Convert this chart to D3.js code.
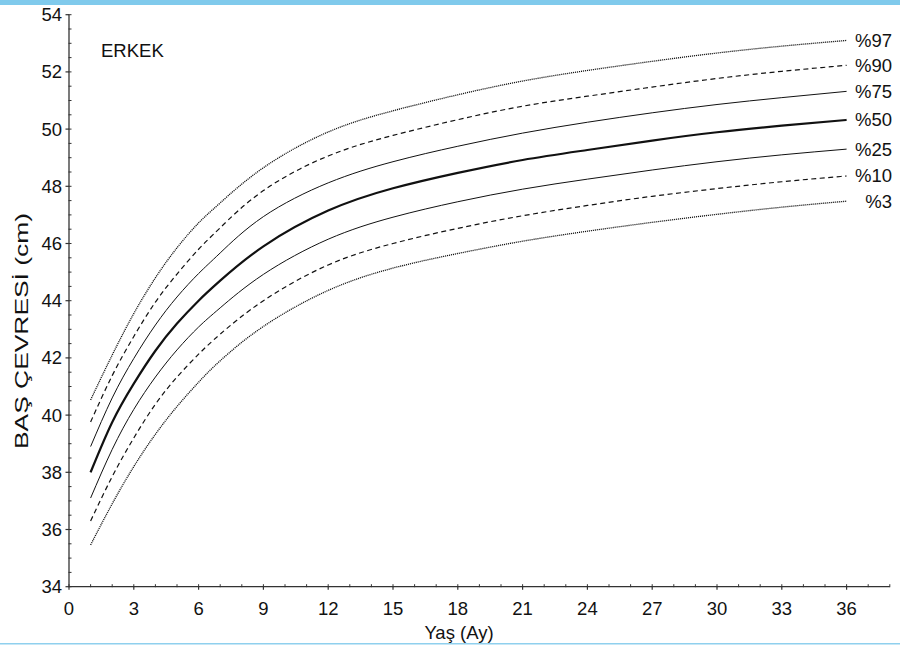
<!DOCTYPE html>
<html>
<head>
<meta charset="utf-8">
<script src="https://cdn.jsdelivr.net/npm/d3@7/dist/d3.min.js"></script>
<style>
  body { margin: 0; background: #fff; }
  svg { display: block; font-family: "Liberation Sans", Arial, sans-serif; }
</style>
</head>
<body>
<svg id="chart"></svg>
<script>
// ages (months) where the curves were read
const months = [1, 2, 3, 4, 5, 6, 7, 9, 12, 15, 18, 21, 24, 27, 30, 33, 36];

// head circumference percentiles (cm)
const p97 = [40.53, 42.1, 43.55, 44.8, 45.85, 46.72, 47.42, 48.65, 49.9, 50.64, 51.2, 51.68, 52.05, 52.37, 52.66, 52.9, 53.1];
const p90 = [39.76, 41.38, 42.75, 43.95, 44.93, 45.8, 46.55, 47.85, 49.06, 49.78, 50.33, 50.8, 51.15, 51.47, 51.77, 52.02, 52.23];
const p75 = [38.9, 40.6, 41.98, 43.15, 44.13, 44.95, 45.67, 46.94, 48.12, 48.86, 49.4, 49.86, 50.24, 50.57, 50.86, 51.1, 51.32];
const p50 = [38.0, 39.75, 41.1, 42.25, 43.2, 44.0, 44.7, 45.9, 47.15, 47.93, 48.47, 48.92, 49.27, 49.6, 49.89, 50.12, 50.32];
const p25 = [37.1, 38.8, 40.2, 41.33, 42.28, 43.08, 43.75, 44.92, 46.15, 46.92, 47.46, 47.9, 48.25, 48.57, 48.86, 49.1, 49.3];
const p10 = [36.3, 37.85, 39.2, 40.38, 41.33, 42.13, 42.83, 44.0, 45.25, 46.0, 46.53, 46.97, 47.33, 47.65, 47.92, 48.16, 48.36];
const p3  = [35.46, 36.9, 38.2, 39.33, 40.3, 41.15, 41.9, 43.1, 44.36, 45.14, 45.65, 46.08, 46.43, 46.74, 47.02, 47.27, 47.48];

const seriesNames = ["%97", "%90", "%75", "%50", "%25", "%10", "%3"];
const seriesValues = [p97, p90, p75, p50, p25, p10, p3];

const xTicks = [0, 3, 6, 9, 12, 15, 18, 21, 24, 27, 30, 33, 36];
const yTicks = [34, 36, 38, 40, 42, 44, 46, 48, 50, 52, 54];

// line look per percentile
const lineStyle = {
  "%97": { w: 1.3, dash: "1.1,0.9" },
  "%90": { w: 1.2, dash: "5,3.5" },
  "%75": { w: 1, dash: null },
  "%50": { w: 2.2, dash: null },
  "%25": { w: 1, dash: null },
  "%10": { w: 1.2, dash: "5,3.5" },
  "%3":  { w: 1.3, dash: "1.1,0.9" },
};

const W = 900, H = 645;
const svg = d3.select("#chart").attr("width", W).attr("height", H);

// blue frame strips
svg.append("rect").attr("x", 0).attr("y", 0).attr("width", W).attr("height", 5).attr("fill", "#80caec");
svg.append("rect").attr("x", 0).attr("y", 643).attr("width", W).attr("height", 1.5).attr("fill", "#8fd0ee");

const x = d3.scaleLinear().domain([0, 38]).range([69, 889.8]);
const y = d3.scaleLinear().domain([34, 54]).range([586.7, 14.7]);

const axisColor = "#333";
const g = svg.append("g");

// y axis
g.append("line")
  .attr("x1", x(0)).attr("x2", x(0))
  .attr("y1", y(34)).attr("y2", y(54))
  .attr("stroke", axisColor).attr("stroke-width", 1.3);

g.selectAll(".ymin")
  .data(d3.range(34, 54.01, 0.5))
  .join("line")
  .attr("x1", x(0) - 0.5).attr("x2", x(0) + 2.5)
  .attr("y1", (d) => y(d)).attr("y2", (d) => y(d))
  .attr("stroke", axisColor).attr("stroke-width", 1);

g.selectAll(".ymaj")
  .data(yTicks)
  .join("line")
  .attr("x1", x(0) - 3.5).attr("x2", x(0))
  .attr("y1", (d) => y(d)).attr("y2", (d) => y(d))
  .attr("stroke", axisColor).attr("stroke-width", 1.2);

g.selectAll(".ylab")
  .data(yTicks)
  .join("text")
  .attr("x", 62)
  .attr("y", (d) => y(d))
  .attr("dy", "0.35em")
  .attr("text-anchor", "end")
  .attr("font-size", 18.5)
  .attr("fill", "#111")
  .text((d) => d);

// x axis
g.append("line")
  .attr("x1", x(0)).attr("x2", x(38))
  .attr("y1", y(34)).attr("y2", y(34))
  .attr("stroke", axisColor).attr("stroke-width", 1.3);

g.selectAll(".xmin")
  .data(d3.range(0, 39, 1))
  .join("line")
  .attr("x1", (d) => x(d)).attr("x2", (d) => x(d))
  .attr("y1", y(34) - 2.5).attr("y2", y(34) + 0.5)
  .attr("stroke", axisColor).attr("stroke-width", 1);

g.selectAll(".xmaj")
  .data(xTicks)
  .join("line")
  .attr("x1", (d) => x(d)).attr("x2", (d) => x(d))
  .attr("y1", y(34)).attr("y2", y(34) + 3)
  .attr("stroke", axisColor).attr("stroke-width", 1.2);

g.selectAll(".xlab")
  .data(xTicks)
  .join("text")
  .attr("x", (d) => x(d))
  .attr("y", 615)
  .attr("text-anchor", "middle")
  .attr("font-size", 18.5)
  .attr("fill", "#111")
  .text((d) => d);

// axis titles
svg.append("text")
  .attr("x", 459)
  .attr("y", 639)
  .attr("text-anchor", "middle")
  .attr("font-size", 18.5)
  .attr("fill", "#111")
  .text("Yaş (Ay)");

svg.append("text")
  .attr("transform", "translate(28,331) rotate(-90)")
  .attr("text-anchor", "middle")
  .attr("font-size", 19)
  .attr("textLength", 236)
  .attr("lengthAdjust", "spacingAndGlyphs")
  .attr("fill", "#111")
  .text("BAŞ ÇEVRESİ (cm)");

svg.append("text")
  .attr("x", 101)
  .attr("y", 57)
  .attr("font-size", 18.5)
  .attr("fill", "#111")
  .text("ERKEK");

// percentile curves
const line = d3.line()
  .x((d) => x(d[0]))
  .y((d) => y(d[1]))
  .curve(d3.curveNatural);

seriesNames.forEach((name, i) => {
  const pts = months.map((m, j) => [m, seriesValues[i][j]]);
  const st = lineStyle[name];
  svg.append("path")
    .datum(pts)
    .attr("d", line)
    .attr("fill", "none")
    .attr("stroke", "#111")
    .attr("stroke-width", st.w)
    .attr("stroke-dasharray", st.dash);

  const last = pts[pts.length - 1];
  svg.append("text")
    .attr("x", 892)
    .attr("y", y(last[1]))
    .attr("dy", "0.35em")
    .attr("text-anchor", "end")
    .attr("font-size", 18.5)
    .attr("fill", "#111")
    .text(name);
});
</script>
</body>
</html>
